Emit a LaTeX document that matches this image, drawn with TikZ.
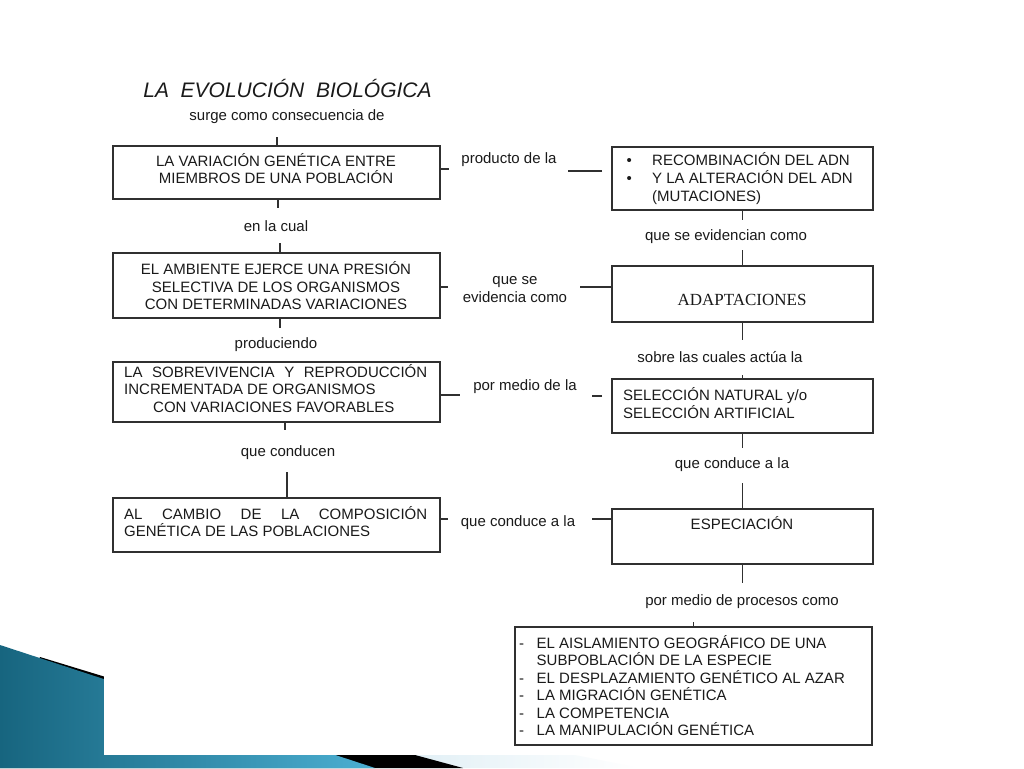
\documentclass[tikz,border=0pt]{standalone}
\usepackage{fontspec}
\setmainfont{Liberation Sans}
\newfontfamily\serifx{Liberation Serif}
\definecolor{boxc}{HTML}{303030}
\definecolor{txtc}{HTML}{1A1A1A}
\definecolor{decoA}{HTML}{17657F}
\definecolor{decoB}{HTML}{4BAFD2}
\definecolor{decoL}{HTML}{D3E8F1}
\tikzset{
  box/.style={draw=boxc, line width=1.3pt, inner sep=0pt, outer sep=0pt},
  txt/.style={text=txtc, font=\fontsize{15}{17.5}\selectfont, inner sep=0pt},
  con/.style={draw=boxc, line width=1.2pt},
}
\begin{document}
\begin{tikzpicture}[x=1pt,y=-1pt]
\useasboundingbox (0,0) rectangle (1024,768);
\fill[white] (0,0) rectangle (1024,768);
% decoration
\shade[left color=decoL, right color=white] (300,700) -- (640,768) -- (300,768) -- cycle;
\fill[black] (40,657) -- (104,676.5) -- (415,755) -- (463,768) -- (0,768) -- cycle;
\shade[left color=decoA, right color=decoB] (0,645) -- (375,768) -- (0,768) -- cycle;
\fill[white] (104,0) rectangle (1024,755);

% title
\node[txt, font=\fontsize{21}{24}\selectfont\itshape] (title) at (287.5,88) {LA\ \ EVOLUCIÓN\ \ BIOLÓGICA};

% left boxes
\node[box, minimum width=327, minimum height=53] (L1) at (276.5,172.5) {};
\node[box, minimum width=327, minimum height=65] (L2) at (276.5,285.5) {};
\node[box, minimum width=327, minimum height=60] (L3) at (276.5,392) {};
\node[box, minimum width=327, minimum height=54] (L4) at (276.5,525) {};
% right boxes
\node[box, minimum width=261, minimum height=63] (R1) at (742.5,178.5) {};
\node[box, minimum width=261, minimum height=56] (R2) at (742.5,294) {};
\node[box, minimum width=261, minimum height=54] (R3) at (742.5,406) {};
\node[box, minimum width=261, minimum height=55] (R4) at (742.5,536.5) {};
\node[box, minimum width=357, minimum height=118] (R5) at (693.5,686) {};

% box texts
\node[txt, align=center] (tL1) at (276,168.5) {LA VARIACIÓN GENÉTICA ENTRE\\MIEMBROS DE UNA POBLACIÓN};
\node[txt, align=center] (tL2) at (276,286) {EL AMBIENTE EJERCE UNA PRESIÓN\\SELECTIVA DE LOS ORGANISMOS\\CON DETERMINADAS VARIACIONES};
\node[txt, align=left, anchor=west] (tL3) at (124,388.5) {\makebox[303pt][s]{LA SOBREVIVENCIA Y REPRODUCCIÓN}\\INCREMENTADA DE ORGANISMOS\\\hspace*{29pt}CON VARIACIONES FAVORABLES};
\node[txt, align=left, anchor=west] (tL4) at (124,521.5) {\makebox[303pt][s]{AL CAMBIO DE LA COMPOSICIÓN}\\GENÉTICA DE LAS POBLACIONES};
\node[txt, font=\fontsize{15}{18}\selectfont, align=left, anchor=west] (tR1) at (626.5,179) {\makebox[25.5pt][l]{•}RECOMBINACIÓN DEL ADN\\\makebox[25.5pt][l]{•}Y LA ALTERACIÓN DEL ADN\\\hspace*{25.5pt}(MUTACIONES)};
\node[txt, font=\fontsize{17}{20}\selectfont\serifx] (tR2) at (742,300) {ADAPTACIONES};
\node[txt, font=\fontsize{15}{18}\selectfont, align=left, anchor=west] (tR3) at (623,403) {SELECCIÓN NATURAL y/o\\SELECCIÓN ARTIFICIAL};
\node[txt] (tR4) at (742,523) {ESPECIACIÓN};
\node[txt, font=\fontsize{15}{17.4}\selectfont, align=left, anchor=west] (tR5) at (519,685.5) {\makebox[17.5pt][l]{-}EL AISLAMIENTO GEOGRÁFICO DE UNA\\\hspace*{17.5pt}SUBPOBLACIÓN DE LA ESPECIE\\\makebox[17.5pt][l]{-}EL DESPLAZAMIENTO GENÉTICO AL AZAR\\\makebox[17.5pt][l]{-}LA MIGRACIÓN GENÉTICA\\\makebox[17.5pt][l]{-}LA COMPETENCIA\\\makebox[17.5pt][l]{-}LA MANIPULACIÓN GENÉTICA};

% labels
\node[txt] (s1) at (287,117) {surge como consecuencia de};
\node[txt] (s2) at (276,226) {en la cual};
\node[txt] (s3) at (276,345) {produciendo};
\node[txt] (s4) at (288,453) {que conducen};
\node[txt] (h1) at (509,160) {producto de la};
\node[txt, align=center] (h2) at (515,289.5) {que se\\evidencia como};
\node[txt] (h3) at (525,387) {por medio de la};
\node[txt] (h4) at (518,523) {que conduce a la};
\node[txt] (v1) at (726,237) {que se evidencian como};
\node[txt] (v2) at (720,357) {sobre las cuales actúa la};
\node[txt] (v3) at (732,465) {que conduce a la};
\node[txt] (v4) at (742,602) {por medio de procesos como};

% vertical connectors, left column
\draw[con] ([xshift=0.5]L1.north) -- ++(0,-9);
\draw[con] ([xshift=1.5]L1.south) -- ++(0,9);
\draw[con] ([xshift=3.5]L2.north) -- ++(0,-10);
\draw[con] ([xshift=3.5]L2.south) -- ++(0,10);
\draw[con] ([xshift=8.5]L3.south) -- ++(0,8);
\draw[con] ([xshift=10.5]L4.north) -- ++(0,-26);
% vertical connectors, right column
\draw[con] (R1.south) -- ++(0,10);
\draw[con] (R2.north) -- ++(0,-16);
\draw[con] (R2.south) -- ++(0,18);
\draw[con] (R3.north) -- ++(0,-4);
\draw[con] (R3.south) -- ++(0,15);
\draw[con] (R4.north) -- ++(0,-26);
\draw[con] (R4.south) -- ++(0,19);
\draw[con] (R5.north) -- ++(0,-5);
% horizontal connectors
\draw[con] (L1.east |- 0,169) -- ++(9,0);
\draw[con] ([xshift=-10]R1.west |- 0,171) -- ++(-34,0);
\draw[con] (L2.east |- 0,287) -- ++(8,0);
\draw[con] (R2.west |- 0,287) -- ++(-32,0);
\draw[con] (L3.east |- 0,395) -- ++(20,0);
\draw[con] ([xshift=-10]R3.west |- 0,396) -- ++(-10,0);
\draw[con] (L4.east |- 0,519) -- ++(8,0);
\draw[con] (R4.west |- 0,519) -- ++(-20,0);
\end{tikzpicture}
\end{document}
